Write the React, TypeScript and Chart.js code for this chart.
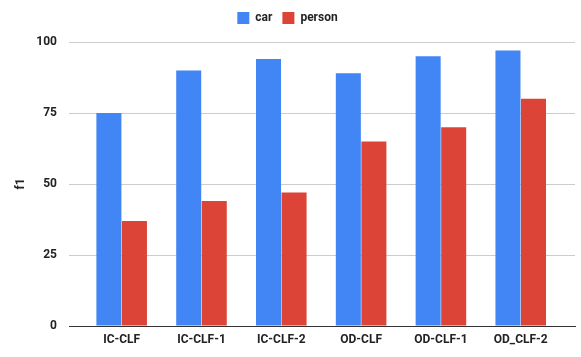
import React, { useEffect, useRef } from "react";
import { Chart, registerables } from "chart.js";

Chart.register(...registerables);

const categories = ["IC-CLF", "IC-CLF-1", "IC-CLF-2", "OD-CLF", "OD-CLF-1", "OD_CLF-2"];
const carValues = [75, 90, 94, 89, 95, 97];
const personValues = [37, 44, 47, 65, 70, 80];
const yTicks = [0, 25, 50, 75, 100];

const FONT = "Roboto";

const legendGap = {
  id: "legendGap",
  beforeInit(chart: any) {
    const lg = chart.legend;
    if (!lg) return;
    const fit = lg.fit;
    lg.fit = function () {
      fit.call(this);
      this.height += 8;
    };
  },
};

export default function App() {
  const ref = useRef<HTMLCanvasElement | null>(null);
  useEffect(() => {
    if (!ref.current) return;
    const chart = new Chart(ref.current, {
      type: "bar",
      data: {
        datasets: [
          {
            label: "car",
            data: carValues.map((v, i) => ({ x: i, y: v })),
            backgroundColor: "#4285F4",
            barPercentage: 0.98,
            categoryPercentage: 0.64,
          },
          {
            label: "person",
            data: personValues.map((v, i) => ({ x: i, y: v })),
            backgroundColor: "#DB4437",
            barPercentage: 0.98,
            categoryPercentage: 0.64,
          },
        ],
      },
      plugins: [legendGap],
      options: {
        animation: false,
        responsive: false,
        maintainAspectRatio: false,
        layout: { padding: { top: 2, right: 6, bottom: 0, left: 0 } },
        plugins: {
          legend: {
            position: "top",
            labels: {
              boxWidth: 12,
              boxHeight: 12,
              color: "#222",
              font: { family: FONT, size: 12, weight: "bold" },
              padding: 10,
            },
          },
          tooltip: { enabled: false },
        },
        scales: {
          x: {
            type: "linear",
            min: -0.66,
            max: 5.68,
            offset: false,
            z: 1,
            afterBuildTicks: (s: any) => {
              s.ticks = categories.map((_, i) => ({ value: i }));
            },
            afterFit: (s: any) => {
              s.height = 31;
            },
            grid: { display: false, drawTicks: false },
            border: { display: true, color: "#333", width: 1 },
            ticks: {
              autoSkip: false,
              maxRotation: 0,
              padding: 7,
              color: "#222",
              font: { family: FONT, size: 12, weight: "bold" },
              callback: (v: any) => categories[Math.round(Number(v))] ?? "",
            },
          },
          y: {
            min: 0,
            max: 100,
            afterBuildTicks: (s: any) => {
              s.ticks = yTicks.map((v) => ({ value: v }));
            },
            afterFit: (s: any) => {
              s.width = 69;
            },
            border: { display: false },
            grid: {
              drawTicks: false,
              color: (ctx: any) => (ctx.tick && ctx.tick.value === 0 ? "rgba(0,0,0,0)" : "#ccc"),
            },
            ticks: {
              padding: 12,
              color: "#222",
              font: { family: FONT, size: 12, weight: "bold" },
            },
            title: {
              display: true,
              text: "f1",
              color: "#222",
              font: { family: FONT, size: 12, weight: "bold" },
              padding: { top: 14, bottom: 0 },
            },
          },
        },
      },
    } as any);
    return () => chart.destroy();
  }, []);
  return (
    <div style={{ position: "fixed", left: 0, top: 0, width: 581, height: 357, background: "#fff" }}>
      <canvas ref={ref} width={581} height={357} style={{ width: 581, height: 357 }} />
    </div>
  );
}
